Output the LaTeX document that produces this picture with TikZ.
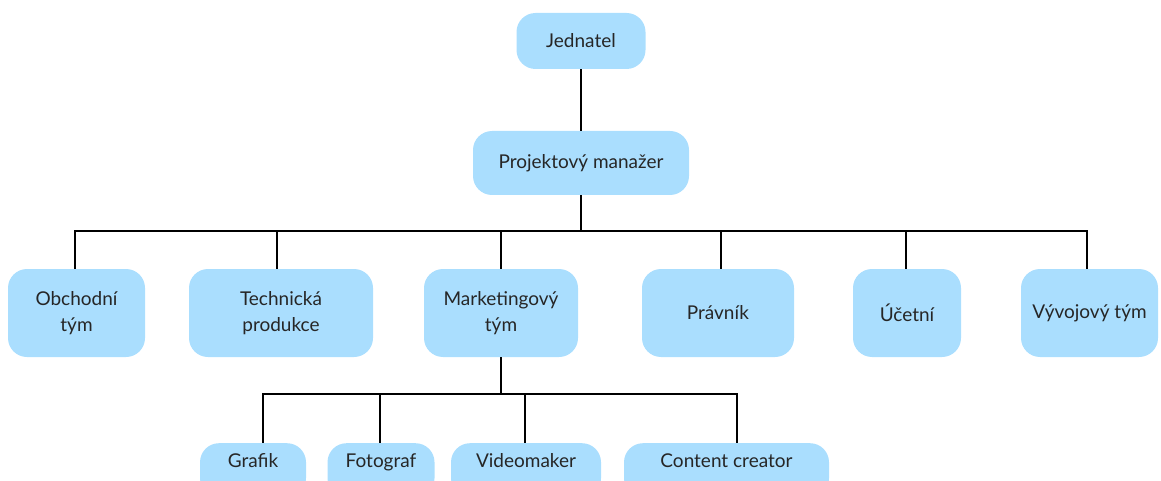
\documentclass[tikz,border=0pt]{standalone}
\usepackage{fontspec}
\setmainfont{Lato}
\usepackage{xcolor}
\usepackage{tikz}

\definecolor{boxblue}{RGB}{170,222,254}
\definecolor{textgray}{RGB}{38,38,38}

\tikzset{
  unit/.style={fill=boxblue, rounded corners=19pt, align=center, text=textgray,
    font=\fontsize{19}{26}\selectfont, inner sep=0pt},
  leaf/.style={unit, anchor=north, text height=14pt, text depth=20pt, inner ysep=10pt},
  link/.style={line width=1.6pt, black}
}

\begin{document}
\begin{tikzpicture}[x=1pt, y=-1pt]
        % Keep the canvas the size of the reference
        \useasboundingbox (0,0) rectangle (1161,481);
        \clip (0,0) rectangle (1161,481);

        % Top of the tree
        \node[unit, minimum width=129pt, minimum height=56pt] (jednatel) at (581,41) {Jednatel};
        \node[unit, minimum width=216pt, minimum height=64pt] (manazer) at (581,163) {Projektový manažer};

        % Second level
        \node[unit, minimum width=137pt, minimum height=88pt] (obchod) at (76.5,313) {Obchodní\\tým};
        \node[unit, minimum width=184pt, minimum height=88pt] (technika) at (281,313) {Technická\\produkce};
        \node[unit, minimum width=154pt, minimum height=88pt] (marketing) at (501,313) {Marketingový\\tým};
        \node[unit, minimum width=152pt, minimum height=88pt] (pravnik) at (718,313) {Právník};
        \node[unit, minimum width=108pt, minimum height=88pt] (ucetni) at (907,313) {Účetní};
        \node[unit, minimum width=137pt, minimum height=88pt] (vyvoj) at (1089.5,313) {Vývojový tým};

        % Marketing team (cut off by the page edge)
        \node[leaf, minimum width=106pt] (grafik) at (253,443) {Grafik};
        \node[leaf, minimum width=107pt] (fotograf) at (381,443) {Fotograf};
        \node[leaf, minimum width=150pt] (video) at (526,443) {Videomaker};
        \node[leaf, minimum width=205pt] (content) at (726.5,443) {Content creator};

        % Connectors
        \draw[link] (jednatel.south) -- (manazer.north);
        \coordinate (bus) at (581,231);
        \draw[link] (manazer.south) -- (bus);
        \foreach \n/\dx in {obchod/-1.5, technika/-4, marketing/0, pravnik/3, ucetni/-1, vyvoj/-2.5}
          \draw[link] (bus) -| ([xshift=\dx pt]\n.north);

        \coordinate (mbus) at (501,394);
        \draw[link] (marketing.south) -- (mbus);
        \foreach \n/\dx in {grafik/10, fotograf/-1, video/-1, content/10.5}
          \draw[link] (mbus) -| ([xshift=\dx pt]\n.north);

    \end{tikzpicture}
\end{document}
